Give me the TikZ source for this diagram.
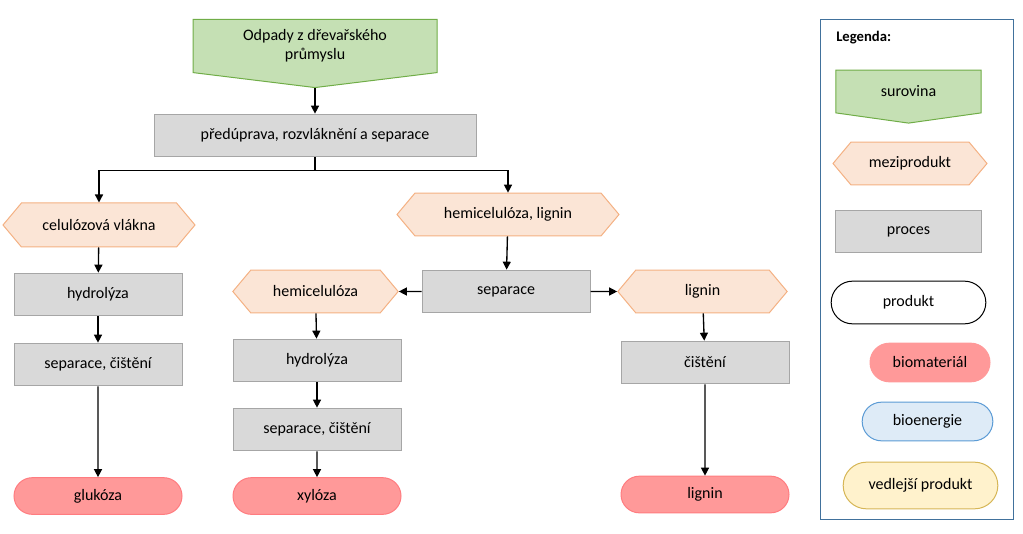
\documentclass[tikz,border=0pt]{standalone}
\usepackage{fontspec}
\setmainfont{Carlito}
\usetikzlibrary{shapes.symbols,shapes.misc,arrows.meta}
\definecolor{gfill}{HTML}{C5E0B4}\definecolor{gdraw}{HTML}{70AD47}
\definecolor{ofill}{HTML}{FBE5D6}\definecolor{odraw}{HTML}{F4B183}
\definecolor{pfill}{HTML}{D9D9D9}\definecolor{pdraw}{HTML}{A6A6A6}
\definecolor{rfill}{HTML}{FF9999}\definecolor{rdraw}{HTML}{FF7C80}
\definecolor{bfill}{HTML}{DEEBF7}\definecolor{bdraw}{HTML}{5B9BD5}
\definecolor{yfill}{HTML}{FFF2CC}\definecolor{ydraw}{HTML}{D6B656}
\definecolor{legdraw}{HTML}{41719C}
\tikzset{
  every node/.style={font=\fontsize{12}{14}\selectfont, inner sep=0pt, align=center},
  raw/.style={signal, signal to=south, signal pointer angle=166, fill=gfill, draw=gdraw, line width=0.75pt},
  mezi/.style={signal, signal to=east and west, signal pointer angle=100, fill=ofill, draw=odraw, line width=0.75pt, minimum height=32pt},
  proc/.style={rectangle, fill=pfill, draw=pdraw, line width=0.75pt, minimum height=32pt},
  prod/.style={rounded rectangle, line width=0.75pt},
  bio/.style={prod, fill=rfill, draw=rdraw, minimum width=126pt, minimum height=27.5pt},
  arr/.style={-{Triangle[length=6pt,width=6pt]}, line width=1pt}
}
\begin{document}
\begin{tikzpicture}[x=0.75pt,y=-0.75pt]
\useasboundingbox (0,0) rectangle (1023,534);
\node[raw, minimum width=183pt, minimum height=46.5pt] (odp) at (315,46) {Odpady z dřevařského\\průmyslu};
\node[proc, minimum width=241.5pt] (pre) at (315,135.5) {předúprava, rozvláknění a separace};
\node[mezi, minimum width=144pt, minimum height=33pt] (cel) at (99,225) {celulózová vlákna};
\node[mezi, minimum width=166.5pt] (hl) at (508,214.5) {hemicelulóza, lignin};
\node[mezi, minimum width=124pt] (hem) at (315.5,291.5) {hemicelulóza};
\node[mezi, minimum width=127pt] (lig) at (702.5,291.5) {lignin};
\node[proc, minimum width=126pt] (hyd1) at (98,294.5) {hydrolýza};
\node[proc, minimum width=126pt] (sc1) at (98,364.5) {separace, čištění};
\node[proc, minimum width=126pt] (sep) at (506,291.5) {separace};
\node[proc, minimum width=126pt] (hyd2) at (317,360.5) {hydrolýza};
\node[proc, minimum width=126pt] (sc2) at (317,429.5) {separace, čištění};
\node[proc, minimum width=126pt] (cis) at (705,362.5) {čištění};
\node[bio] (glu) at (98,496) {glukóza};
\node[bio] (xyl) at (317,496) {xylóza};
\node[bio] (lig2) at (705,494.5) {lignin};

\draw[arr] (odp.south) -- (pre.north);
\draw[arr] (pre.south) -- ++(0,13) -| (cel.north);
\draw[arr] (pre.south) -- ++(0,13) -| (hl.north);
\draw[arr] (cel) -- (hyd1);
\draw[arr] (hyd1) -- (sc1);
\draw[arr] (sc1) -- (glu);
\draw[arr] (hl) -- (sep);
\draw[arr] (sep) -- (hem);
\draw[arr] (sep) -- (lig);
\draw[arr] (hem) -- (hyd2);
\draw[arr] (hyd2) -- (sc2);
\draw[arr] (sc2) -- (xyl);
\draw[arr] (lig) -- (cis);
\draw[arr] (cis) -- (lig2);

\node[draw=legdraw, line width=0.75pt, minimum width=144.75pt, minimum height=374.25pt] (leg) at (916.5,269.5) {};
\node[anchor=west, font=\fontsize{11}{13}\selectfont\bfseries] (legt) at (836,38) {Legenda:};
\node[raw, signal pointer angle=164, minimum width=109pt, minimum height=35pt] (l1) at (908.5,91.5) {surovina};
\node[mezi, minimum width=115.5pt] (l2) at (910,163.5) {meziprodukt};
\node[proc, minimum width=109pt] (l3) at (908.5,231.5) {proces};
\node[prod, draw=black, fill=white, minimum width=116pt, minimum height=32pt] (l4) at (908.5,302.5) {produkt};
\node[prod, fill=rfill, draw=rfill, minimum width=90pt, minimum height=29pt] (l5) at (930,362.5) {biomateriál};
\node[prod, fill=bfill, draw=bdraw, minimum width=98pt, minimum height=29pt] (l6) at (927.5,421.5) {bioenergie};
\node[prod, fill=yfill, draw=ydraw, minimum width=116pt, minimum height=35pt] (l7) at (920.5,485.5) {vedlejší produkt};
\end{tikzpicture}
\end{document}
